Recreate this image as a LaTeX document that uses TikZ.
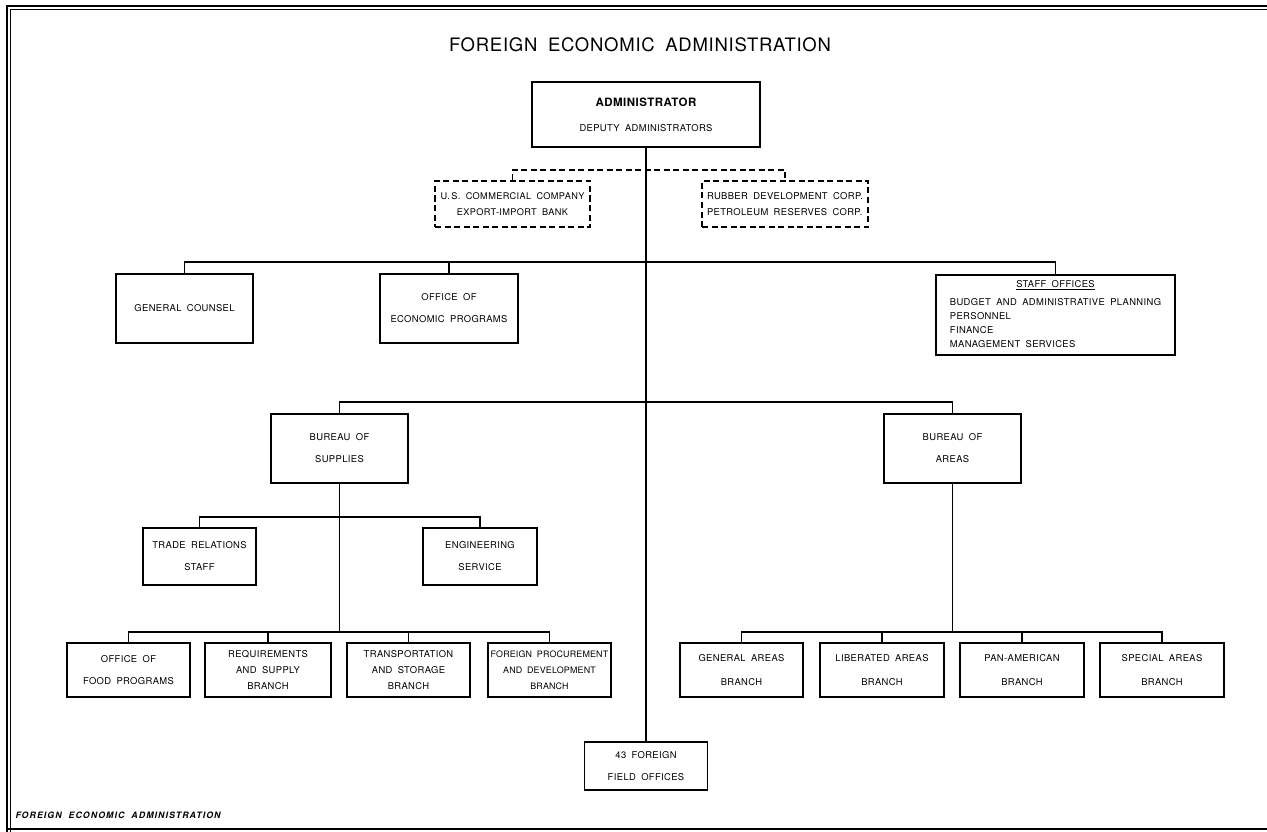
\documentclass[tikz,border=0pt]{standalone}
\usepackage{fontspec}
\setmainfont[LetterSpace=4,WordSpace=1.8]{TeX Gyre Heros}
\newfontfamily\footfont[LetterSpace=12,WordSpace=2]{TeX Gyre Heros}
\begin{document}
\begin{tikzpicture}[x=1pt,y=-1pt,
  box/.style={draw,line width=1.2pt,inner sep=0pt,align=center,
    font=\fontsize{9.4}{22}\selectfont},
  dbox/.style={box,dashed,dash pattern=on 6pt off 3.5pt,font=\fontsize{9.4}{16}\selectfont},
  conn/.style={line width=1.2pt},
  dconn/.style={line width=1.2pt,dash pattern=on 6pt off 3.5pt}]
\useasboundingbox (0,0) rectangle (1267,832);
% frame
\draw[line width=2pt] (7,832) -- (7,6) -- (1267,6);
\draw[line width=0.8pt] (10.5,832) -- (10.5,9.5) -- (1267,9.5);
\draw[line width=1.2pt] (7,829) -- (1267,829);
% title
\node (title) at (640,45) {\fontsize{18.5}{20}\selectfont FOREIGN ECONOMIC ADMINISTRATION};
\node[anchor=west] (foot) at (12,815) {\footfont\fontsize{8.8}{9}\selectfont\bfseries\itshape FOREIGN ECONOMIC ADMINISTRATION};
% boxes
\node[box,minimum width=228,minimum height=65,font=\fontsize{9.4}{25}\selectfont] (admin) at (646,114.5)
  {{\fontsize{11.5}{12}\selectfont\bfseries ADMINISTRATOR}\\DEPUTY ADMINISTRATORS};
\node[dbox,minimum width=155,minimum height=46,font=\fontsize{9.2}{16}\selectfont] (uscc) at (512.5,204)
  {U.\,S. COMMERCIAL COMPANY\\EXPORT-IMPORT BANK};
\node[dbox,minimum width=166,minimum height=46,align=left] (rdc) at (785,204)
  {RUBBER DEVELOPMENT CORP.\\PETROLEUM RESERVES CORP.};
\node[box,minimum width=137,minimum height=69] (gc) at (184.5,308.5) {GENERAL COUNSEL};
\node[box,minimum width=138,minimum height=69] (oep) at (449,308.5) {OFFICE OF\\ECONOMIC PROGRAMS};
\node[box,minimum width=239,minimum height=80,font=\fontsize{9.4}{14}\selectfont] (staff) at (1055.5,315)
  {\begin{tabular}{@{}l@{}}\multicolumn{1}{c}{\underline{STAFF OFFICES}}\\[4pt]
   BUDGET AND ADMINISTRATIVE PLANNING\\PERSONNEL\\FINANCE\\MANAGEMENT SERVICES\end{tabular}};
\node[box,minimum width=137,minimum height=69] (bos) at (339.5,448.5) {BUREAU OF\\SUPPLIES};
\node[box,minimum width=137,minimum height=69] (boa) at (952.5,448.5) {BUREAU OF\\AREAS};
\node[box,minimum width=113,minimum height=57] (trs) at (199.5,556.5) {TRADE RELATIONS\\STAFF};
\node[box,minimum width=114,minimum height=57] (eng) at (480,556.5) {ENGINEERING\\SERVICE};
\node[box,minimum width=123,minimum height=54] (ofp) at (128.5,670) {OFFICE OF\\FOOD PROGRAMS};
\node[box,minimum width=126,minimum height=54,font=\fontsize{9.4}{16}\selectfont] (rsb) at (268,670) {REQUIREMENTS\\AND SUPPLY\\BRANCH};
\node[box,minimum width=123,minimum height=54,font=\fontsize{9.4}{16}\selectfont] (tsb) at (408.5,670) {TRANSPORTATION\\AND STORAGE\\BRANCH};
\node[box,minimum width=123,minimum height=54,font=\fontsize{8.9}{16}\selectfont\addfontfeatures{LetterSpace=2}] (fpd) at (549.5,670) {FOREIGN PROCUREMENT\\AND DEVELOPMENT\\BRANCH};
\node[box,minimum width=123,minimum height=54,font=\fontsize{9.4}{24}\selectfont] (gab) at (741.5,670) {GENERAL AREAS\\BRANCH};
\node[box,minimum width=124,minimum height=54,font=\fontsize{9.4}{24}\selectfont] (lab) at (882,670) {LIBERATED AREAS\\BRANCH};
\node[box,minimum width=124,minimum height=54,font=\fontsize{9.4}{24}\selectfont] (pab) at (1022,670) {PAN-AMERICAN\\BRANCH};
\node[box,minimum width=124,minimum height=54,font=\fontsize{9.4}{24}\selectfont] (sab) at (1162,670) {SPECIAL AREAS\\BRANCH};
\node[box,minimum width=123,minimum height=48] (ffo) at (646,766) {43 FOREIGN\\FIELD OFFICES};
% bus coordinates
\coordinate (dbus) at (646,170);
\coordinate (sbus) at (646,262);
\coordinate (bbus) at (646,402);
\coordinate (tbus) at (339.5,517);
\coordinate (supbus) at (339.5,632);
\coordinate (arbus) at (952.5,632);
% connectors
\draw[conn] (admin.south) -- (ffo.north);
\draw[dconn] (uscc.north) |- (dbus) -| (rdc.north);
\draw[conn] (gc.north) |- (sbus) -| (staff.north);
\draw[conn] (oep.north) -- (oep.north |- sbus);
\draw[conn] (bos.north) |- (bbus) -| (boa.north);
\draw[conn] (bos.south) -- (supbus);
\draw[conn] (trs.north) |- (tbus) -| (eng.north);
\draw[conn] (ofp.north) |- (supbus) -| (fpd.north);
\draw[conn] (rsb.north) -- (rsb.north |- supbus);
\draw[conn] (tsb.north) -- (tsb.north |- supbus);
\draw[conn] (boa.south) -- (arbus);
\draw[conn] (gab.north) |- (arbus) -| (sab.north);
\draw[conn] (lab.north) -- (lab.north |- arbus);
\draw[conn] (pab.north) -- (pab.north |- arbus);
\end{tikzpicture}
\end{document}
